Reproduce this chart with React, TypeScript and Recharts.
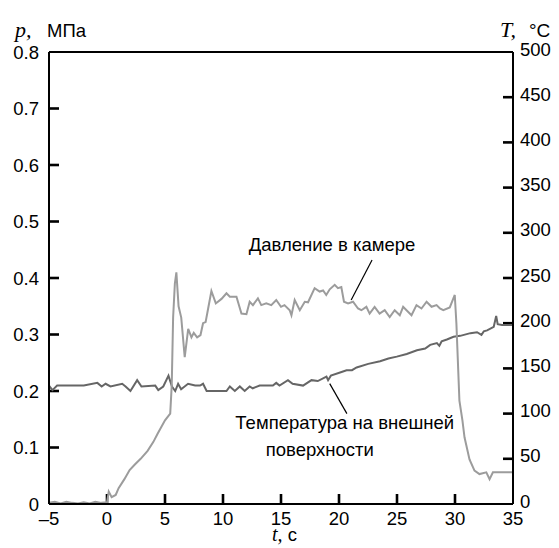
import React from 'react';
import { LineChart, Line, XAxis, YAxis, ReferenceLine, ReferenceDot, ReferenceArea } from 'recharts';

// Pressure in the chamber, MPa (left axis)
const pressureTime = [
  -5, -4.5, -4, -3.5, -3, -2.5, -2, -1.5, -1, -0.5, 0, 0.15, 0.4, 0.75, 1.0, 1.5, 1.95, 2.4, 2.9, 3.5,
  4.0, 4.35, 5.0, 5.45, 5.58, 5.7, 5.85, 5.98, 6.17, 6.4, 6.7, 7.0, 7.28, 7.48, 7.77, 8.06, 8.28, 8.5,
  8.72, 9.0, 9.38, 9.87, 10.3, 10.59, 11.16, 11.59, 12.02, 12.3, 12.58, 13.01, 13.3, 13.73, 14.16,
  14.59, 15.0, 15.3, 15.75, 15.9, 16.18, 16.62, 17.05, 17.33, 17.9, 18.33, 18.63, 18.9, 19.2, 19.63,
  19.91, 20.2, 20.43, 20.78, 21.21, 21.64, 21.93, 22.36, 22.64, 23.07, 23.5, 23.94, 24.37, 24.8,
  25.24, 25.53, 25.82, 26.25, 26.68, 27.11, 27.55, 27.98, 28.41, 28.7, 28.99, 29.55, 29.98, 30.12,
  30.38, 30.64, 30.82, 31.25, 31.68, 32.11, 32.7, 32.98, 33.27, 35.0,
];
const pressureValue = [
  0.002, 0.004, 0.001, 0.004, 0.002, 0.001, 0.003, 0.001, 0.004, 0.002, 0.003, 0.022, 0.012, 0.016,
  0.028, 0.044, 0.06, 0.07, 0.08, 0.094, 0.11, 0.124, 0.148, 0.16, 0.21, 0.33, 0.39, 0.41, 0.35, 0.33,
  0.26, 0.31, 0.295, 0.303, 0.295, 0.299, 0.32, 0.322, 0.346, 0.377, 0.355, 0.363, 0.373, 0.367, 0.367,
  0.337, 0.336, 0.358, 0.352, 0.364, 0.352, 0.355, 0.352, 0.361, 0.349, 0.352, 0.343, 0.334, 0.361,
  0.343, 0.358, 0.357, 0.382, 0.376, 0.378, 0.37, 0.38, 0.388, 0.382, 0.384, 0.358, 0.355, 0.358,
  0.346, 0.343, 0.349, 0.337, 0.349, 0.337, 0.343, 0.331, 0.343, 0.334, 0.349, 0.343, 0.334, 0.352,
  0.346, 0.358, 0.349, 0.352, 0.346, 0.343, 0.348, 0.37, 0.32, 0.183, 0.148, 0.118, 0.079, 0.059,
  0.053, 0.056, 0.044, 0.056, 0.056,
];

// Outer surface temperature, °C (right axis)
const temperatureTime = [
  -5, -4.7, -4.3, -2.0, -0.83, -0.46, -0.12, 0.3, 1.31, 1.6, 2.02, 2.6, 2.97, 4.16, 4.42, 4.85, 5.3,
  5.6, 5.88, 6.13, 6.39, 6.99, 7.6, 8.02, 8.28, 8.59, 10.3, 10.59, 11.02, 11.45, 11.87, 12.3, 12.56,
  13.16, 14.3, 14.59, 14.87, 15.6, 16.0, 16.9, 17.63, 18.17, 18.92, 19.06, 19.3, 20.22, 20.65,
  21.12, 21.52, 22.52, 23.54, 24.26, 24.98, 25.84, 26.72, 27.43, 27.86, 28.44, 28.65, 28.85, 29.3,
  29.87, 30.45, 31.33, 31.9, 32.28, 32.48, 32.77, 33.34, 33.55, 33.68, 34.05, 35.0,
];
const temperatureValue = [
  131, 126, 131, 131, 134, 130, 133, 130, 133, 130, 125, 137, 130, 131, 126, 130, 142, 130, 125, 133,
  127, 133, 131, 131, 133, 125, 125, 130, 125, 130, 125, 130, 128, 131, 131, 134, 131, 137, 133, 131,
  137, 136, 141, 137, 142, 146, 148, 148, 151, 155, 158, 161, 163, 166, 170, 172, 176, 178, 175, 180,
  182, 185, 186, 189, 190, 187, 191, 192, 196, 208, 199, 198, 198,
];

const xTicks = [-5, 0, 5, 10, 15, 20, 25, 30, 35];
const pTicks = [0, 0.1, 0.2, 0.3, 0.4, 0.5, 0.6, 0.7, 0.8];
const tTicks = [0, 50, 100, 150, 200, 250, 300, 350, 400, 450, 500];

const pressureData = pressureTime.map((t, i) => ({ t, p: pressureValue[i] }));
const temperatureData = temperatureTime.map((t, i) => ({ t, T: temperatureValue[i] }));

const X_MIN = -5;
const X_MAX = 35;
const P_MAX = 0.8;
const T_MAX = 500;

// Layout
const W = 559;
const H = 548;
const TOP = 52;
const LEFT_W = 49;
const RIGHT_W = 46;
const BOTTOM_H = 44;
const PLOT_W = W - LEFT_W - RIGHT_W;
const PLOT_H = H - TOP - BOTTOM_H;

// Inward tick marks: length and thickness in px, converted to each axis' units
const TICK_LEN = 10;
const TICK_W = 2.6;
const xPerPx = (X_MAX - X_MIN) / PLOT_W;
const pPerPx = P_MAX / PLOT_H;
const tPerPx = T_MAX / PLOT_H;

const SANS = '"Liberation Sans", Arial, sans-serif';
const SERIF = '"Liberation Serif", "Times New Roman", serif';
const FS = 18.5;

const fmtX = (v: number) => (v < 0 ? '\u2013' + Math.abs(v) : String(v));
const fmtP = (v: number) => (v === 0 ? '0' : v.toFixed(1));

const BottomTick = (props: any) => {
  const { x, y, payload } = props;
  return (
    <text x={x} y={y + 20.5} textAnchor="middle" fontFamily={SANS} fontSize={FS} fill="#000">
      {fmtX(payload.value)}
    </text>
  );
};

const LeftTick = (props: any) => {
  const { x, y, payload } = props;
  return (
    <text x={x - 10} y={y + 6.5} textAnchor="end" fontFamily={SANS} fontSize={FS} fill="#000">
      {fmtP(payload.value)}
    </text>
  );
};

const RightTick = (props: any) => {
  const { x, y, payload } = props;
  return (
    <text x={x + 7} y={y + 3.5} textAnchor="start" fontFamily={SANS} fontSize={FS} fill="#000">
      {payload.value}
    </text>
  );
};

const noteText = (lines: string[], lineGap: number, offsets: number[]) => (props: any) => {
  const { cx, cy } = props;
  return (
    <g>
      {lines.map((s, i) => (
        <text
          key={i}
          x={cx + offsets[i]}
          y={cy + i * lineGap}
          textAnchor="middle"
          fontFamily={SANS}
          fontSize={18.5}
          fill="#000"
        >
          {s}
        </text>
      ))}
    </g>
  );
};

const axisStroke = { stroke: '#000', strokeWidth: 2 };

export default function App() {
  return (
    <div style={{ position: 'absolute', left: 0, top: 0, background: '#fff' }}>
      <LineChart width={W} height={H} margin={{ top: TOP, right: 0, bottom: 0, left: 0 }}>
        <XAxis
          dataKey="t"
          type="number"
          domain={[X_MIN, X_MAX]}
          ticks={xTicks}
          allowDataOverflow
          height={BOTTOM_H}
          tickSize={0}
          tickMargin={0}
          tickLine={false}
          tick={<BottomTick />}
          axisLine={axisStroke}
          label={{
            content: (lp: any) => {
              const vb = lp.viewBox;
              return (
                <text x={vb.x + vb.width / 2 - 9} y={vb.y + 37} fontSize={FS} fill="#000">
                  <tspan fontFamily={SERIF} fontStyle="italic" fontSize={20}>t,</tspan>
                  <tspan fontFamily={SANS}> с</tspan>
                </text>
              );
            },
          }}
        />
        <YAxis
          yAxisId="p"
          orientation="left"
          domain={[0, P_MAX]}
          ticks={pTicks}
          width={LEFT_W}
          tickSize={0}
          tickMargin={0}
          tickLine={false}
          tick={<LeftTick />}
          axisLine={axisStroke}
          label={{
            content: (lp: any) => {
              const vb = lp.viewBox;
              return (
                <text y={vb.y - 15} fontSize={FS} fill="#000">
                  <tspan x={vb.x + 15} fontFamily={SERIF} fontStyle="italic" fontSize={22}>p,</tspan>
                  <tspan x={vb.x + 47} fontFamily={SANS}>МПа</tspan>
                </text>
              );
            },
          }}
        />
        <YAxis
          yAxisId="T"
          orientation="right"
          domain={[0, T_MAX]}
          ticks={tTicks}
          width={RIGHT_W}
          tickSize={0}
          tickMargin={0}
          tickLine={false}
          tick={<RightTick />}
          axisLine={axisStroke}
          label={{
            content: (lp: any) => {
              const vb = lp.viewBox;
              return (
                <text y={vb.y - 15} fill="#000">
                  <tspan x={vb.x - 13} fontFamily={SERIF} fontStyle="italic" fontSize={22}>T,</tspan>
                  <tspan x={vb.x + 16} fontFamily={SANS} fontSize={19}>°C</tspan>
                </text>
              );
            },
          }}
        />
        <ReferenceLine yAxisId="p" y={P_MAX} stroke="#000" strokeWidth={2} />

        {/* inward tick marks on the bottom, left and right axes */}
        {xTicks
          .filter((v) => v > X_MIN && v < X_MAX)
          .map((v) => (
            <ReferenceArea
              key={`xt${v}`}
              yAxisId="p"
              x1={v - (TICK_W / 2) * xPerPx}
              x2={v + (TICK_W / 2) * xPerPx}
              y1={0}
              y2={TICK_LEN * pPerPx}
              fill="#000"
              fillOpacity={1}
              stroke="none"
            />
          ))}
        {pTicks
          .filter((v) => v > 0 && v < P_MAX)
          .map((v) => (
            <ReferenceArea
              key={`pt${v}`}
              yAxisId="p"
              x1={X_MIN}
              x2={X_MIN + TICK_LEN * xPerPx}
              y1={v - (TICK_W / 2) * pPerPx}
              y2={v + (TICK_W / 2) * pPerPx}
              fill="#000"
              fillOpacity={1}
              stroke="none"
            />
          ))}
        {tTicks
          .filter((v) => v > 0 && v < T_MAX)
          .map((v) => (
            <ReferenceArea
              key={`tt${v}`}
              yAxisId="T"
              x1={X_MAX - TICK_LEN * xPerPx}
              x2={X_MAX}
              y1={v - (TICK_W / 2) * tPerPx}
              y2={v + (TICK_W / 2) * tPerPx}
              fill="#000"
              fillOpacity={1}
              stroke="none"
            />
          ))}

        <Line
          yAxisId="T"
          data={temperatureData}
          dataKey="T"
          type="linear"
          stroke="#666666"
          strokeWidth={2}
          dot={false}
          isAnimationActive={false}
        />
        <Line
          yAxisId="p"
          data={pressureData}
          dataKey="p"
          type="linear"
          stroke="#9c9c9c"
          strokeWidth={2}
          dot={false}
          isAnimationActive={false}
        />
        <ReferenceLine
          yAxisId="p"
          segment={[{ x: 22.85, y: 0.432 }, { x: 21.05, y: 0.361 }]}
          stroke="#000"
          strokeWidth={1.2}
        />
        <ReferenceLine
          yAxisId="p"
          segment={[{ x: 19.2, y: 0.213 }, { x: 20.68, y: 0.16 }]}
          stroke="#000"
          strokeWidth={1.2}
        />
        <ReferenceDot
          yAxisId="p"
          x={19.4}
          y={0.448}
          r={0}
          shape={noteText(['Давление в камере'], 0, [0])}
        />
        <ReferenceDot
          yAxisId="p"
          x={20.5}
          y={0.133}
          r={0}
          shape={noteText(['Температура на внешней', 'поверхности'], 27, [0, -25])}
        />
      </LineChart>
    </div>
  );
}
